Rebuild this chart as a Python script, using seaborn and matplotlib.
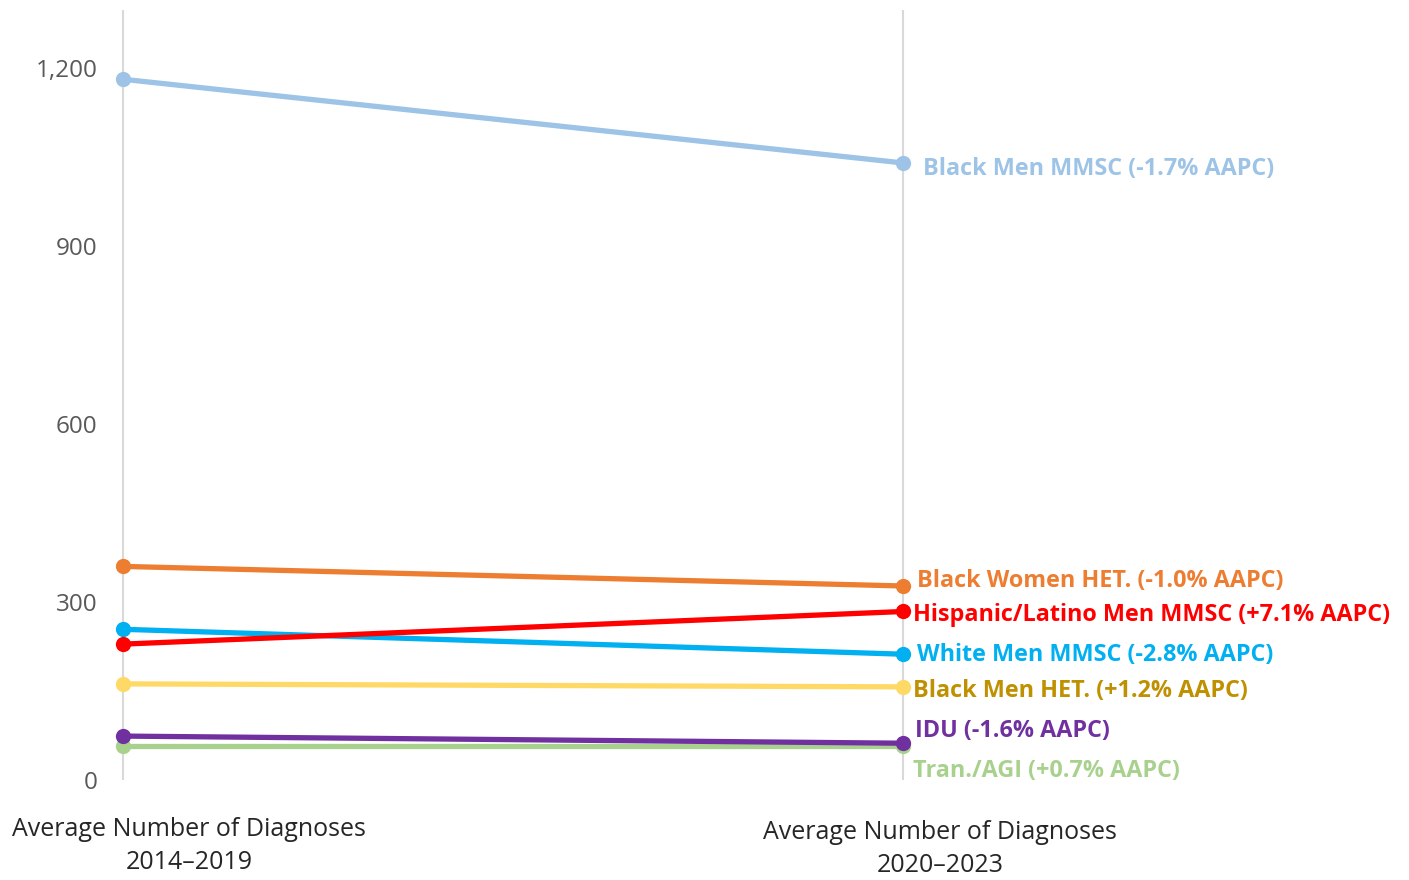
import matplotlib
matplotlib.use("Agg")
import matplotlib.pyplot as plt
import seaborn as sns
import pandas as pd
from matplotlib.ticker import FuncFormatter

# ---- data ----
periods = ["Average Number of Diagnoses\n2014\u20132019", "Average Number of Diagnoses\n2020\u20132023"]
groups = ["Black Men MMSC", "Black Women HET.", "Hispanic/Latino Men MMSC",
          "White Men MMSC", "Black Men HET.", "IDU", "Tran./AGI"]
aapc = ["-1.7%", "-1.0%", "+7.1%", "-2.8%", "+1.2%", "-1.6%", "+0.7%"]
v_2014_2019 = [1181, 360, 229, 254, 162, 74, 57]
v_2020_2023 = [1040, 327, 284, 212, 157, 62, 57]
yticks = [0, 300, 600, 900, 1200]

line_colors = ["#9DC3E6", "#ED7D31", "#FF0000", "#00B0F0", "#FFD966", "#7030A0", "#A9D18E"]
label_colors = ["#9DC3E6", "#ED7D31", "#FF0000", "#00B0F0", "#BF9000", "#7030A0", "#A9D18E"]

rows = []
for g, a, b in zip(groups, v_2014_2019, v_2020_2023):
    rows.append({"group": g, "x": 0, "value": a})
    rows.append({"group": g, "x": 1, "value": b})
df = pd.DataFrame(rows)

sns.set_theme(style="white")
plt.rcParams["font.family"] = ["Open Sans", "DejaVu Sans"]

W, H = 1409, 880
fig = plt.figure(figsize=(W / 100, H / 100), dpi=100)
ax_left, ax_right, ax_top, ax_bot = 110, 1409, 10, 780
ax = fig.add_axes([ax_left / W, (H - ax_bot) / H, (ax_right - ax_left) / W, (ax_bot - ax_top) / H])

px_per_unit_x = 903 - 123
ax.set_xlim(-(123 - ax_left) / px_per_unit_x, (ax_right - 123) / px_per_unit_x)
px_per_val = (780 - 68) / 1200
ax.set_ylim(0, (ax_bot - ax_top) / px_per_val)

for xv in [0, 1]:
    ax.axvline(xv, color="#D9D9D9", lw=1.5, zorder=0)

# later series drawn on top (reverse order)
sns.lineplot(data=df, x="x", y="value", hue="group", hue_order=list(reversed(groups)),
             palette=dict(zip(groups, line_colors)), marker="o", markersize=11,
             markeredgewidth=0, linewidth=3.8, legend=False, ax=ax, zorder=3)

# Label positions (chosen to avoid overlap)
label_y = [1030, 336, 278.5, 211, 150, 83, 15.5]
label_dx = [20, 14, 10, 14, 10, 12, 10]
for g, a, c, ly, dx in zip(groups, aapc, label_colors, label_y, label_dx):
    ax.text(1 + dx / px_per_unit_x, ly, f"{g} ({a} AAPC)", color=c, fontsize=16.8,
            fontweight="bold", va="center", ha="left")

ax.set_yticks(yticks)
ax.yaxis.set_major_formatter(FuncFormatter(lambda v, p: f"{int(v):,}"))
ax.tick_params(axis="y", length=0, pad=9, labelsize=17.5, labelcolor="#595959")
ax.set_xticks([])
ax.set_xlabel("")
ax.set_ylabel("")
for s in ax.spines.values():
    s.set_visible(False)

# category labels
fig.text(189 / W, 1 - 846 / H, periods[0], ha="center", va="center", fontsize=18,
         color="#262626", linespacing=1.45)
fig.text(940 / W, 1 - 849 / H, periods[1], ha="center", va="center", fontsize=18,
         color="#262626", linespacing=1.45)

fig.savefig("out.png", dpi=100)
